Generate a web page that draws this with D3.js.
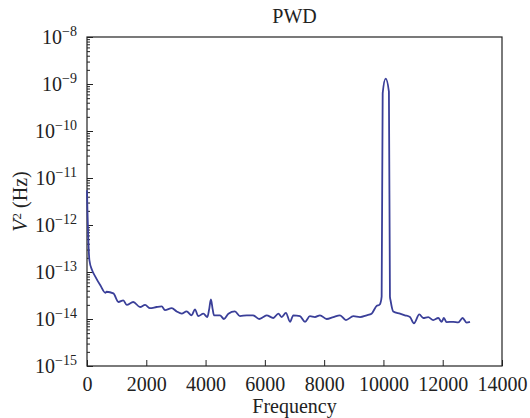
<!DOCTYPE html>
<html lang="en">
<head>
<meta charset="UTF-8" />
<title>PWD</title>
<script src="https://d3js.org/d3.v7.min.js"></script>
<style>
    body { margin: 0; background: #fff; }
    svg { display: block; }
    .axis path, .axis line { stroke: #222; }
    .frame { fill: none; stroke: #222; stroke-width: 1.2px; }
    .trace { fill: none; stroke: #3a3f99; stroke-width: 1.8px; stroke-linejoin: round; }
</style>
</head>
<body>
<svg width="530" height="418"></svg>
<script>
    // spectrum
    const freq = [0, 15, 40, 80, 170, 280, 450, 620, 660, 890, 1060, 1225, 1340, 1560, 1790, 1960,
        2125, 2350, 2520, 2630, 2860, 3025, 3195, 3360, 3530, 3640, 3755, 3925, 4060, 4120, 4180, 4240,
        4285, 4485, 4620, 4770, 4990, 5160, 5390, 5600, 5810, 5950, 6060, 6285, 6455, 6565, 6710,
        6850, 6960, 7185, 7355, 7520, 7690, 7860, 8085, 8310, 8535, 8735, 8985, 9210, 9435, 9600,
        9770, 9860, 9900, 9940, 9975, 10075, 10185, 10220, 10240, 10330, 10560, 10725, 10895, 11030,
        11210, 11345, 11510, 11680, 11850, 11965, 12040, 12130, 12355, 12525, 12670, 12805, 12920];
    const power = [5.5e-12, 2e-12, 6e-13, 1.8e-13, 1.1e-13, 8e-14, 5.2e-14, 3.6e-14, 3.8e-14, 3.5e-14,
        2.3e-14, 2.5e-14, 2e-14, 2.3e-14, 1.8e-14, 2e-14,
        1.7e-14, 1.8e-14, 1.85e-14, 1.55e-14, 1.7e-14, 1.45e-14, 1.3e-14, 1.45e-14, 1.2e-14, 1.6e-14,
        1.15e-14, 1.3e-14, 1.1e-14, 1.6e-14, 2.6e-14, 1.6e-14,
        1.2e-14, 1.2e-14, 1e-14, 1.3e-14, 1.45e-14, 1.15e-14, 1.2e-14, 1.2e-14, 1e-14, 1.1e-14,
        1.2e-14, 1.05e-14, 1.3e-14, 1.1e-14, 1.35e-14,
        8.7e-15, 1.2e-14, 1.15e-14, 8.7e-15, 1.15e-14, 1.1e-14, 1.2e-14, 1e-14, 1.1e-14, 1.2e-14,
        9.5e-15, 1.15e-14, 1.1e-14, 1.2e-14, 1.3e-14,
        1.9e-14, 2e-14, 2.2e-14, 3e-14, 6.4e-10, 1.3e-9, 6.9e-10, 3e-14, 2.5e-14, 1.45e-14, 1.3e-14,
        1.2e-14, 1.1e-14, 8.1e-15,
        1.25e-14, 1.05e-14, 1.1e-14, 9.5e-15, 1.05e-14, 8.7e-15, 1.05e-14, 8.6e-15, 8.7e-15, 8.5e-15,
        1.05e-14, 8.4e-15, 8.7e-15];
    const xTicks = [0, 2000, 4000, 6000, 8000, 10000, 12000, 14000];
    const yExponents = [-15, -14, -13, -12, -11, -10, -9, -8];

    const serif = "'Liberation Serif', 'Times New Roman', Times";
    const ink = "#222";
    const svg = d3.select("svg");
    const plotL = 87, plotR = 502, plotT = 37, plotB = 366;

    const x = d3.scaleLinear().domain([0, 14000]).range([plotL, plotR]);
    const y = d3.scaleLog().domain([1e-15, 1e-8]).range([plotB, plotT]);

    function serifText(sel, size) {
        return sel.attr("font-family", serif).attr("font-size", size)
            .style("font-family", serif).attr("fill", ink);
    }

    // x axis, ticks pointing inward
    const xAxis = svg.append("g")
        .attr("class", "axis")
        .attr("transform", `translate(0,${plotB})`)
        .call(d3.axisBottom(x).tickValues(xTicks).tickSizeInner(-6).tickSizeOuter(0).tickPadding(11)
            .tickFormat(d3.format("d")));
    xAxis.attr("font-family", serif).attr("font-size", 20);
    serifText(xAxis.selectAll("text"), 20);
    xAxis.select(".domain").remove();

    // y axis: major ticks at decades, minor 2..9
    const minor = [];
    yExponents.slice(0, -1).forEach(e => {
        for (let k = 2; k <= 9; k++) minor.push(k * Math.pow(10, e));
    });
    svg.append("g")
        .attr("class", "axis")
        .attr("transform", `translate(${plotL},0)`)
        .call(d3.axisLeft(y).tickValues(minor).tickSizeInner(-3).tickSizeOuter(0).tickFormat(""))
        .call(g => g.select(".domain").remove());

    const yAxis = svg.append("g")
        .attr("class", "axis")
        .attr("transform", `translate(${plotL},0)`)
        .call(d3.axisLeft(y).tickValues(yExponents.map(e => Math.pow(10, e)))
            .tickSizeInner(-6).tickSizeOuter(0).tickFormat(""));
    yAxis.select(".domain").remove();
    yAxis.attr("font-family", serif).attr("font-size", 20);

    yAxis.selectAll(".tick").append("text")
        .attr("x", -10)
        .attr("dy", "0.33em")
        .attr("text-anchor", "end")
        .call(serifText, 20)
        .each(function (d) {
            const t = d3.select(this);
            const e = Math.round(Math.log10(d));
            t.append("tspan").text("10");
            t.append("tspan").attr("font-size", 14).attr("dy", "-0.6em").text("\u2212" + Math.abs(e));
        });

    // frame
    svg.append("rect").attr("class", "frame")
        .attr("x", plotL).attr("y", plotT)
        .attr("width", plotR - plotL).attr("height", plotB - plotT);

    // trace
    const pts = freq.map((f, i) => [f, power[i]]);
    svg.append("path")
        .datum(pts)
        .attr("class", "trace")
        .attr("d", d3.line().x(d => x(d[0])).y(d => y(d[1])).curve(d3.curveMonotoneX));

    // titles
    svg.append("text")
        .attr("x", (plotL + plotR) / 2).attr("y", 23)
        .attr("text-anchor", "middle")
        .call(serifText, 20)
        .text("PWD");

    svg.append("text")
        .attr("x", (plotL + plotR) / 2).attr("y", 413)
        .attr("text-anchor", "middle")
        .call(serifText, 20)
        .text("Frequency");

    const yl = svg.append("text")
        .attr("transform", `translate(27,${(plotT + plotB) / 2}) rotate(-90)`)
        .attr("text-anchor", "middle")
        .call(serifText, 20);
    yl.append("tspan").attr("font-style", "italic").text("V");
    yl.append("tspan").attr("font-size", 13).attr("dy", "-0.5em").text("2");
    yl.append("tspan").attr("dy", "0.33em").text(" (Hz)");
</script>
</body>
</html>
